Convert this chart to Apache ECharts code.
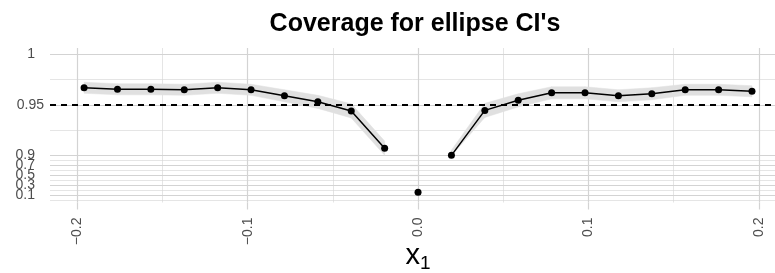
<!DOCTYPE html>
<html>
<head>
<meta charset="utf-8">
<script src="https://cdn.jsdelivr.net/npm/echarts@6/dist/echarts.min.js"></script>
<style>
  html, body { margin: 0; padding: 0; background: #fff; }
  #main { width: 775px; height: 273px; }
</style>
</head>
<body>
<div id="main"></div>
<script>
// x positions of the simulated points
var xVals = [-0.196, -0.1764, -0.1568, -0.1372, -0.1176, -0.098, -0.0784, -0.0588, -0.0392, -0.0196,
  0, 0.0196, 0.0392, 0.0588, 0.0784, 0.098, 0.1176, 0.1372, 0.1568, 0.1764, 0.196];
// coverage estimate
var coverage = [0.967, 0.9655, 0.9655, 0.965, 0.967, 0.965, 0.959, 0.953, 0.944, 0.907,
  0.166, 0.897, 0.9445, 0.9545, 0.962, 0.962, 0.959, 0.961, 0.965, 0.965, 0.9635];
// grey band around the line (none at x = 0)
var lower = [0.9615, 0.96, 0.96, 0.9595, 0.9615, 0.9595, 0.953, 0.9465, 0.937, 0.9,
  null, 0.89, 0.9375, 0.948, 0.956, 0.956, 0.953, 0.955, 0.9595, 0.9595, 0.958];
var upper = [0.9725, 0.971, 0.971, 0.9705, 0.9725, 0.9705, 0.965, 0.9595, 0.951, 0.914,
  null, 0.905, 0.9515, 0.961, 0.968, 0.968, 0.965, 0.967, 0.9705, 0.9705, 0.969];

var xMajor = [-0.2, -0.1, 0, 0.1, 0.2];
var xMinor = [-0.15, -0.05, 0.05, 0.15];
var yMajor = [0.1, 0.3, 0.5, 0.7, 0.9, 0.95, 1];
var yMinor = [0, 0.2, 0.4, 0.6, 0.8, 0.925, 0.975];
// the low labels overlap, so they are split over two label axes
var yLabelsA = [0.1, 0.5, 0.9, 0.95, 1];
var yLabelsB = [0.3, 0.7];
var refLine = 0.95;

// y scale is squashed below 0.9 (1/20 of the upper part)
var BREAK = 0.9, SQUASH = 0.05;
function ty(v) { return v >= BREAK ? v : BREAK - (BREAK - v) * SQUASH; }
function untY(v) { return v >= BREAK - 1e-9 ? v : BREAK - (BREAK - v) / SQUASH; }

var FONT = "'Liberation Sans', Arial, sans-serif";
var GRID = '#d3d3d3';
var LABEL = '#4d4d4d';
var Y_MIN = 0.853, Y_MAX = 1.0065;
var mid = 10;

function pairs(a, b) {
  var out = [];
  for (var i = a; i <= b; i++) out.push([xVals[i], ty(coverage[i])]);
  return out;
}

// band pieces between neighbouring points
var bandSegs = [];
for (var i = 0; i < xVals.length - 1; i++) {
  if (lower[i] == null || lower[i + 1] == null) continue;
  bandSegs.push([xVals[i], ty(lower[i]), ty(upper[i]), xVals[i + 1], ty(lower[i + 1]), ty(upper[i + 1])]);
}

function yLabel(values) {
  return {
    customValues: values.map(ty), margin: 6, fontFamily: FONT, fontSize: 14, color: LABEL,
    showMinLabel: true, showMaxLabel: true, hideOverlap: false,
    formatter: function (v) {
      var s = String(Math.round(untY(v) * 100) / 100);
      return s === '0.95' ? '{w|' + s + '}' : '{p|' + s + '}';
    },
    rich: {
      w: { fontFamily: FONT, fontSize: 14, color: LABEL },
      p: { fontFamily: FONT, fontSize: 14, color: LABEL, padding: [0, 9, 0, 0] }
    }
  };
}

var dotLine = {
  type: 'line', symbol: 'circle', symbolSize: 7, z: 3,
  itemStyle: { color: '#000', opacity: 1 },
  lineStyle: { color: '#000', width: 1.5 }
};

var chart = echarts.init(document.getElementById('main'));
var option = {
  animation: false,
  backgroundColor: '#fff',
  title: {
    text: "Coverage for ellipse CI's",
    left: 410, textAlign: 'center', top: 7,
    textStyle: { fontFamily: FONT, fontWeight: 'bold', fontSize: 25, color: '#000' }
  },
  grid: { left: 50, right: 0, top: 48, bottom: 70.5, containLabel: false, outerBoundsMode: 'none' },
  xAxis: [{
    type: 'value', min: -0.216, max: 0.2095,
    axisLine: { show: false },
    axisTick: { show: true, customValues: xMajor, length: 7, lineStyle: { color: GRID, width: 1.2 } },
    axisLabel: {
      customValues: xMajor, rotate: 90, margin: 15, fontFamily: FONT, fontSize: 14, color: LABEL,
      formatter: function (v) { return v.toFixed(1).replace('-', '\u2212'); }
    },
    splitLine: { show: true, lineStyle: { color: GRID, width: 1.2 } },
    name: '{x|x}{s|1}', nameLocation: 'middle', nameGap: 36, nameMoveOverlap: false,
    nameTextStyle: {
      rich: {
        x: { fontFamily: FONT, fontSize: 29, color: '#000', padding: [0, 0, 0, 11] },
        s: { fontFamily: FONT, fontSize: 19, color: '#000', verticalAlign: 'bottom', padding: [16, 0, 0, 0] }
      }
    }
  }, {
    type: 'value', min: -0.216, max: 0.2095, position: 'bottom',
    axisLine: { show: false },
    axisTick: { show: false, customValues: xMinor },
    axisLabel: { show: false },
    splitLine: { show: true, lineStyle: { color: GRID, width: 0.6 } }
  }],
  yAxis: [{
    type: 'value', min: Y_MIN, max: Y_MAX,
    axisLine: { show: false },
    axisTick: { show: true, customValues: yMajor.map(ty), length: 8, lineStyle: { color: GRID, width: 1.2 } },
    axisLabel: yLabel(yLabelsA),
    splitLine: { show: true, lineStyle: { color: GRID, width: 1.2 } }
  }, {
    type: 'value', min: Y_MIN, max: Y_MAX, position: 'left',
    axisLine: { show: false },
    axisTick: { show: false, customValues: yMinor.map(ty) },
    axisLabel: { show: false },
    splitLine: { show: true, lineStyle: { color: GRID, width: 0.6 } }
  }, {
    type: 'value', min: Y_MIN, max: Y_MAX, position: 'left', offset: 0,
    axisLine: { show: false },
    axisTick: { show: false, customValues: yLabelsB.map(ty) },
    axisLabel: yLabel(yLabelsB),
    splitLine: { show: false }
  }],
  series: [
    {
      type: 'custom', data: bandSegs, silent: true, z: 1,
      encode: { x: [0, 3], y: [1, 2, 4, 5] },
      renderItem: function (params, api) {
        var a = api.coord([api.value(0), api.value(1)]);
        var b = api.coord([api.value(0), api.value(2)]);
        var c = api.coord([api.value(3), api.value(5)]);
        var d = api.coord([api.value(3), api.value(4)]);
        return { type: 'polygon', shape: { points: [a, b, c, d] }, style: { fill: '#e0e0e0', stroke: '#e0e0e0', lineWidth: 0.5 } };
      }
    },
    Object.assign({}, dotLine, {
      data: pairs(0, mid - 1),
      markLine: {
        silent: true, symbol: 'none', label: { show: false },
        lineStyle: { color: '#000', type: [6, 5], width: 1.8 },
        data: [{ yAxis: ty(refLine) }]
      }
    }),
    Object.assign({}, dotLine, { data: pairs(mid + 1, xVals.length - 1) }),
    { type: 'scatter', symbol: 'circle', symbolSize: 7, z: 3, itemStyle: { color: '#000', opacity: 1 }, data: pairs(mid, mid) }
  ]
};
chart.setOption(option);
</script>
</body>
</html>
